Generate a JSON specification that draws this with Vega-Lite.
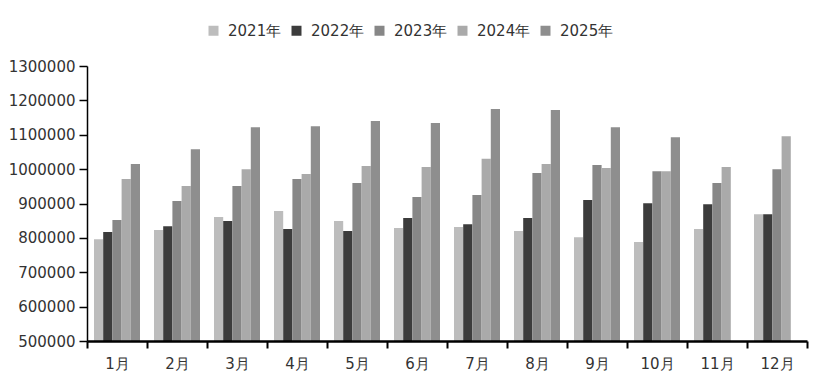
{
  "$schema": "https://vega.github.io/schema/vega-lite/v6.json",
  "autosize": {"type": "none"},
  "padding": {"left": 87, "top": 66, "right": 14, "bottom": 41},
  "width": 720,
  "height": 275,
  "background": "white",
  "config": {
    "view": {"stroke": null},
    "font": "DejaVu Sans",
    "axis": {"grid": false, "labelFont": "DejaVu Sans", "labelFontSize": 15, "labelColor": "#333333", "domainColor": "#000000", "tickColor": "#000000"},
    "legend": {"labelFont": "DejaVu Sans", "labelFontSize": 15, "labelColor": "#333333"}
  },
  "data": {
    "values": [
      {"month": "1月", "year": "2021年", "value": 796000},
      {"month": "1月", "year": "2022年", "value": 817000},
      {"month": "1月", "year": "2023年", "value": 852000},
      {"month": "1月", "year": "2024年", "value": 971000},
      {"month": "1月", "year": "2025年", "value": 1015000},
      {"month": "2月", "year": "2021年", "value": 823000},
      {"month": "2月", "year": "2022年", "value": 834000},
      {"month": "2月", "year": "2023年", "value": 907000},
      {"month": "2月", "year": "2024年", "value": 951000},
      {"month": "2月", "year": "2025年", "value": 1058000},
      {"month": "3月", "year": "2021年", "value": 861000},
      {"month": "3月", "year": "2022年", "value": 849000},
      {"month": "3月", "year": "2023年", "value": 951000},
      {"month": "3月", "year": "2024年", "value": 1000000},
      {"month": "3月", "year": "2025年", "value": 1122000},
      {"month": "4月", "year": "2021年", "value": 878000},
      {"month": "4月", "year": "2022年", "value": 826000},
      {"month": "4月", "year": "2023年", "value": 971000},
      {"month": "4月", "year": "2024年", "value": 986000},
      {"month": "4月", "year": "2025年", "value": 1125000},
      {"month": "5月", "year": "2021年", "value": 849000},
      {"month": "5月", "year": "2022年", "value": 820000},
      {"month": "5月", "year": "2023年", "value": 960000},
      {"month": "5月", "year": "2024年", "value": 1009000},
      {"month": "5月", "year": "2025年", "value": 1140000},
      {"month": "6月", "year": "2021年", "value": 829000},
      {"month": "6月", "year": "2022年", "value": 858000},
      {"month": "6月", "year": "2023年", "value": 919000},
      {"month": "6月", "year": "2024年", "value": 1006000},
      {"month": "6月", "year": "2025年", "value": 1134000},
      {"month": "7月", "year": "2021年", "value": 832000},
      {"month": "7月", "year": "2022年", "value": 840000},
      {"month": "7月", "year": "2023年", "value": 925000},
      {"month": "7月", "year": "2024年", "value": 1030000},
      {"month": "7月", "year": "2025年", "value": 1175000},
      {"month": "8月", "year": "2021年", "value": 820000},
      {"month": "8月", "year": "2022年", "value": 858000},
      {"month": "8月", "year": "2023年", "value": 989000},
      {"month": "8月", "year": "2024年", "value": 1015000},
      {"month": "8月", "year": "2025年", "value": 1172000},
      {"month": "9月", "year": "2021年", "value": 802000},
      {"month": "9月", "year": "2022年", "value": 910000},
      {"month": "9月", "year": "2023年", "value": 1012000},
      {"month": "9月", "year": "2024年", "value": 1003000},
      {"month": "9月", "year": "2025年", "value": 1122000},
      {"month": "10月", "year": "2021年", "value": 788000},
      {"month": "10月", "year": "2022年", "value": 901000},
      {"month": "10月", "year": "2023年", "value": 994000},
      {"month": "10月", "year": "2024年", "value": 994000},
      {"month": "10月", "year": "2025年", "value": 1093000},
      {"month": "11月", "year": "2021年", "value": 826000},
      {"month": "11月", "year": "2022年", "value": 898000},
      {"month": "11月", "year": "2023年", "value": 960000},
      {"month": "11月", "year": "2024年", "value": 1006000},
      {"month": "12月", "year": "2021年", "value": 869000},
      {"month": "12月", "year": "2022年", "value": 869000},
      {"month": "12月", "year": "2023年", "value": 1000000},
      {"month": "12月", "year": "2024年", "value": 1096000}
    ]
  },
  "mark": {"type": "bar", "clip": true},
  "encoding": {
    "x": {
      "field": "month",
      "type": "nominal",
      "sort": ["1月","2月","3月","4月","5月","6月","7月","8月","9月","10月","11月","12月"],
      "scale": {"paddingInner": 0, "paddingOuter": 0},
      "axis": {"title": null, "zindex": 2, "labelAngle": 0, "tickBand": "extent", "tickSize": 7, "tickWidth": 2, "domainWidth": 2.5, "labelPadding": 8}
    },
    "xOffset": {
      "field": "year",
      "type": "nominal",
      "scale": {"domain": ["2021年","2022年","2023年","2024年","2025年"], "paddingInner": 0, "paddingOuter": 0.76}
    },
    "y": {
      "field": "value",
      "type": "quantitative",
      "scale": {"domain": [500000, 1300000], "zero": false, "nice": false},
      "axis": {"title": null, "zindex": 2, "values": [500000,600000,700000,800000,900000,1000000,1100000,1200000,1300000], "format": "d", "tickSize": 8, "tickWidth": 1.5, "domainWidth": 1.5, "labelPadding": 4}
    },
    "color": {
      "field": "year",
      "type": "nominal",
      "scale": {"domain": ["2021年","2022年","2023年","2024年","2025年"], "range": ["#bdbdbd","#3c3c3c","#878787","#aaaaaa","#8e8e8e"]},
      "legend": {"title": null, "orient": "none", "legendX": 119, "legendY": -43, "direction": "horizontal", "columns": 5, "symbolType": "square", "symbolSize": 100, "symbolStrokeWidth": 0, "labelOffset": 7, "columnPadding": 7}
    }
  }
}
